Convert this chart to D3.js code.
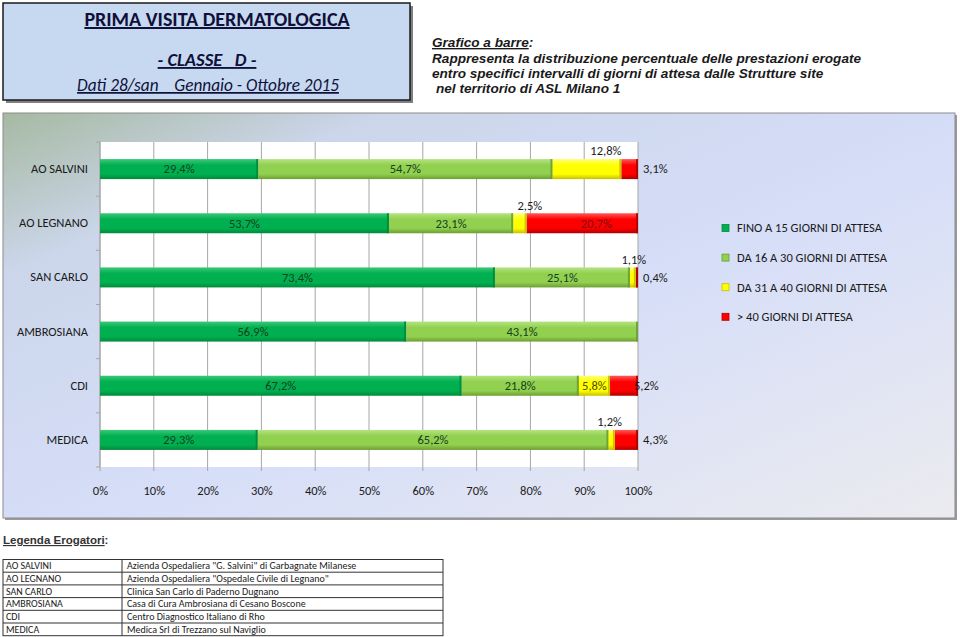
<!DOCTYPE html>
<html>
<head>
<meta charset="utf-8">
<script src="https://cdn.jsdelivr.net/npm/d3@7"></script>
<style>
  body { margin: 0; background: #ffffff; }
  svg { display: block; }
</style>
</head>
<body>
<div id="chart"></div>
<script>
//------------------------------------------------------------------------------
// Data
//------------------------------------------------------------------------------

var categories = ["AO SALVINI", "AO LEGNANO", "SAN CARLO", "AMBROSIANA", "CDI", "MEDICA"];
var seriesNames = ["FINO A 15 GIORNI DI ATTESA", "DA 16 A 30 GIORNI DI ATTESA",
                   "DA 31 A 40 GIORNI DI ATTESA", "> 40 GIORNI DI ATTESA"];
var fino15  = [29.4, 53.7, 73.4, 56.9, 67.2, 29.3];
var da16a30 = [54.7, 23.1, 25.1, 43.1, 21.8, 65.2];
var da31a40 = [12.8, 2.5, 1.1, 0, 5.8, 1.2];
var oltre40 = [3.1, 20.7, 0.4, 0, 5.2, 4.3];
var xTicks = [0, 10, 20, 30, 40, 50, 60, 70, 80, 90, 100];

var erogatori = [
  ["AO SALVINI", "Azienda Ospedaliera \"G. Salvini\" di Garbagnate Milanese"],
  ["AO LEGNANO", "Azienda Ospedaliera \"Ospedale Civile di Legnano\""],
  ["SAN CARLO", "Clinica San Carlo di Paderno Dugnano"],
  ["AMBROSIANA", "Casa di Cura Ambrosiana di Cesano Boscone"],
  ["CDI", "Centro Diagnostico Italiano di Rho"],
  ["MEDICA", "Medica Srl di Trezzano sul Naviglio"]
];

// where the small labels sit (as set by hand in the original sheet)
var labelPlace = {
  "AO SALVINI|2": {mode: "above", dx: 19},
  "AO SALVINI|3": {mode: "right", dx: 0},
  "AO LEGNANO|2": {mode: "above", dx: 10},
  "AO LEGNANO|3": {mode: "center", dx: 14},
  "SAN CARLO|2":  {mode: "above", dx: 1},
  "SAN CARLO|3":  {mode: "right", dx: 0},
  "CDI|3":        {mode: "right", dx: -9},
  "MEDICA|2":     {mode: "above", dx: -2},
  "MEDICA|3":     {mode: "right", dx: 0}
};

var colors = ["#00b050", "#92d050", "#ffff00", "#ff0000"];
var shades = [
  ["#3cc878", "#00b050", "#008a3c"],
  ["#b4e482", "#92d050", "#6c9e32"],
  ["#ffff7a", "#ffff00", "#c8c000"],
  ["#ff5a5a", "#ff0000", "#b00000"]
];

//------------------------------------------------------------------------------
// Drawing
//------------------------------------------------------------------------------

var W = 960, H = 637;
var font = "Carlito, Lato, 'Open Sans', sans-serif";

var svg = d3.select("#chart").append("svg")
  .attr("width", W).attr("height", H);

var defs = svg.append("defs");

var bg = defs.append("linearGradient").attr("id", "bg")
  .attr("x1", "0").attr("y1", "0").attr("x2", "1").attr("y2", "1");
bg.append("stop").attr("offset", "0%").attr("stop-color", "#a6b9a2");
bg.append("stop").attr("offset", "20%").attr("stop-color", "#cbd6ea");
bg.append("stop").attr("offset", "55%").attr("stop-color", "#d6def8");
bg.append("stop").attr("offset", "100%").attr("stop-color", "#ebebef");

shades.forEach(function(s, i) {
  var g = defs.append("linearGradient").attr("id", "bar" + i)
    .attr("x1", "0").attr("y1", "0").attr("x2", "0").attr("y2", "1");
  g.append("stop").attr("offset", "0%").attr("stop-color", s[0]);
  g.append("stop").attr("offset", "30%").attr("stop-color", s[1]);
  g.append("stop").attr("offset", "75%").attr("stop-color", s[1]);
  g.append("stop").attr("offset", "100%").attr("stop-color", s[2]);
});

// ---- title box
svg.append("rect").attr("x", 6).attr("y", 6).attr("width", 407).attr("height", 97)
  .attr("fill", "#7f7f7f");
svg.append("rect").attr("x", 3).attr("y", 3).attr("width", 407).attr("height", 97)
  .attr("fill", "#c6d9f1").attr("stroke", "#1a1a1a").attr("stroke-width", 1.5);

var tcol = "#10103a";
svg.append("text").attr("x", 217).attr("y", 26).attr("text-anchor", "middle")
  .attr("font-family", font).attr("font-size", 20).attr("font-weight", "bold")
  .attr("text-decoration", "underline").attr("fill", tcol)
  .text("PRIMA VISITA DERMATOLOGICA");
svg.append("text").attr("x", 207).attr("y", 66).attr("text-anchor", "middle")
  .attr("font-family", font).attr("font-size", 18.5).attr("font-style", "italic")
  .attr("font-weight", "bold")
  .attr("text-decoration", "underline").attr("fill", tcol).attr("xml:space", "preserve")
  .text("- CLASSE   D -");
svg.append("text").attr("x", 208).attr("y", 91).attr("text-anchor", "middle")
  .attr("font-family", font).attr("font-size", 17.3).attr("font-style", "italic")
  .attr("text-decoration", "underline").attr("fill", tcol).attr("xml:space", "preserve")
  .text("Dati 28/san    Gennaio - Ottobre 2015");

// ---- description
var desc = svg.append("g").attr("font-family", "'Liberation Sans', Arial, sans-serif")
  .attr("font-size", 13.6).attr("font-weight", "bold").attr("font-style", "italic")
  .attr("fill", "#1a1a1a");
var d1 = desc.append("text").attr("x", 432).attr("y", 47);
d1.append("tspan").attr("text-decoration", "underline").text("Grafico a barre");
d1.append("tspan").text(":");
desc.append("text").attr("x", 432).attr("y", 63)
  .text("Rappresenta la distribuzione percentuale delle prestazioni erogate");
desc.append("text").attr("x", 432).attr("y", 78)
  .text("entro specifici intervalli di giorni di attesa dalle Strutture site");
desc.append("text").attr("x", 436).attr("y", 93)
  .text("nel territorio di ASL Milano 1");

// ---- chart area
svg.append("rect").attr("x", 5).attr("y", 115).attr("width", 952).attr("height", 405)
  .attr("fill", "#9a9a9a");
svg.append("rect").attr("x", 3).attr("y", 113).attr("width", 952).attr("height", 405)
  .attr("fill", "url(#bg)").attr("stroke", "#8c8c8c").attr("stroke-width", 1);

var plot = {left: 100, right: 638, top: 142, bottom: 467};

var x = d3.scaleLinear().domain([0, 100]).range([plot.left, plot.right]);
var y = d3.scaleBand().domain(categories).range([plot.top, plot.bottom]).padding(0);
var barH = 20;

svg.append("rect").attr("x", plot.left).attr("y", plot.top)
  .attr("width", plot.right - plot.left).attr("height", plot.bottom - plot.top)
  .attr("fill", "#ffffff");

// gridlines
svg.append("g").selectAll("line").data(xTicks).join("line")
  .attr("x1", function(d) { return x(d); }).attr("x2", function(d) { return x(d); })
  .attr("y1", plot.top).attr("y2", plot.bottom + 4)
  .attr("stroke", "#a6a6a6").attr("stroke-width", 1);

// x axis
var xAxis = svg.append("g").attr("transform", "translate(0," + plot.bottom + ")")
  .call(d3.axisBottom(x).tickValues(xTicks).tickSize(0).tickPadding(19)
    .tickFormat(function(d) { return d + "%"; }));
xAxis.select(".domain").remove();
xAxis.selectAll("text").attr("font-family", font).attr("font-size", 12.5).attr("fill", "#1a1a1a");

// y axis line and ticks at band edges
var edges = categories.map(function(c) { return y(c); }).concat([plot.bottom]);
svg.append("line").attr("x1", plot.left).attr("x2", plot.left)
  .attr("y1", plot.top).attr("y2", plot.bottom).attr("stroke", "#a6a6a6");
svg.append("g").selectAll("line").data(edges).join("line")
  .attr("x1", plot.left - 4).attr("x2", plot.left)
  .attr("y1", function(d) { return d; }).attr("y2", function(d) { return d; })
  .attr("stroke", "#a6a6a6");

var yAxis = svg.append("g").attr("transform", "translate(" + plot.left + ",0)")
  .call(d3.axisLeft(y).tickSize(0).tickPadding(12));
yAxis.select(".domain").remove();
yAxis.selectAll("text").attr("font-family", font).attr("font-size", 12.5).attr("fill", "#1a1a1a");

// stacked bars
var table = categories.map(function(c, i) {
  return {cat: c, s0: fino15[i], s1: da16a30[i], s2: da31a40[i], s3: oltre40[i]};
});
var stack = d3.stack().keys(["s0", "s1", "s2", "s3"])(table);

var segs = [];
stack.forEach(function(layer, si) {
  layer.forEach(function(d) {
    var v = d[1] - d[0];
    if (v > 0) segs.push({si: si, cat: d.data.cat, x0: d[0], x1: d[1], v: v});
  });
});

var bars = svg.append("g");
bars.selectAll("rect.seg").data(segs).join("rect").attr("class", "seg")
  .attr("x", function(d) { return x(d.x0); })
  .attr("y", function(d) { return y(d.cat) + (y.bandwidth() - barH) / 2; })
  .attr("width", function(d) { return x(d.x1) - x(d.x0); })
  .attr("height", barH)
  .attr("fill", function(d) { return "url(#bar" + d.si + ")"; });

// bevel at the end of each segment
bars.selectAll("rect.edge").data(segs).join("rect").attr("class", "edge")
  .attr("x", function(d) { return x(d.x1) - Math.min(2, x(d.x1) - x(d.x0)); })
  .attr("y", function(d) { return y(d.cat) + (y.bandwidth() - barH) / 2; })
  .attr("width", function(d) { return Math.min(2, x(d.x1) - x(d.x0)); })
  .attr("height", barH)
  .attr("fill", function(d) { return shades[d.si][2]; })
  .attr("opacity", 0.9);

// value labels
function fmt(v) { return v.toFixed(1).replace(".", ",") + "%"; }

bars.selectAll("text").data(segs).join("text")
  .attr("font-family", font).attr("font-size", 12.5)
  .attr("fill", function(d) {
    var p = labelPlace[d.cat + "|" + d.si];
    return (p && p.mode !== "center") ? "#1a1a1a" : (d.si < 2 ? "#14401e" : (d.si === 3 ? "#7a1010" : "#4a4a00"));
  })
  .attr("dy", "0.35em")
  .each(function(d) {
    var p = labelPlace[d.cat + "|" + d.si] || {mode: "center", dx: 0};
    var cy = y(d.cat) + y.bandwidth() / 2;
    var t = d3.select(this);
    if (p.mode === "above") {
      t.attr("x", x((d.x0 + d.x1) / 2) + p.dx).attr("y", cy - barH / 2 - 8)
        .attr("text-anchor", "middle");
    } else if (p.mode === "right") {
      t.attr("x", x(d.x1) + 5 + p.dx).attr("y", cy).attr("text-anchor", "start");
    } else {
      t.attr("x", x((d.x0 + d.x1) / 2) + p.dx).attr("y", cy).attr("text-anchor", "middle");
    }
  })
  .text(function(d) { return fmt(d.v); });

// legend
var legend = svg.append("g").attr("transform", "translate(722,228)");
var li = legend.selectAll("g").data(seriesNames).join("g")
  .attr("transform", function(d, i) { return "translate(0," + (i * 29.6) + ")"; });
li.append("rect").attr("x", 0).attr("y", -3.5).attr("width", 7).attr("height", 7)
  .attr("fill", function(d, i) { return colors[i]; })
  .attr("stroke", function(d, i) { return shades[i][2]; }).attr("stroke-width", 0.8);
li.append("text").attr("x", 15).attr("dy", "0.35em")
  .attr("font-family", font).attr("font-size", 12.5).attr("fill", "#1a1a1a")
  .text(function(d) { return d; });

// ---- legenda erogatori
var leg2 = svg.append("text").attr("x", 3).attr("y", 544)
  .attr("font-family", "'Liberation Sans', Arial, sans-serif").attr("font-size", 11.5)
  .attr("font-weight", "bold").attr("fill", "#333333");
leg2.append("tspan").attr("text-decoration", "underline").text("Legenda Erogatori");
leg2.append("tspan").text(":");

var tbl = {x: 3, y: 559.5, w: 440, col: 122, rowH: 12.7};
var tg = svg.append("g");
tg.append("rect").attr("x", tbl.x).attr("y", tbl.y).attr("width", tbl.w)
  .attr("height", tbl.rowH * erogatori.length)
  .attr("fill", "#ffffff").attr("stroke", "#333333").attr("stroke-width", 1);
tg.append("line").attr("x1", tbl.col).attr("x2", tbl.col)
  .attr("y1", tbl.y).attr("y2", tbl.y + tbl.rowH * erogatori.length).attr("stroke", "#333333");
var rows = tg.selectAll("g.row").data(erogatori).join("g").attr("class", "row")
  .attr("transform", function(d, i) { return "translate(0," + (tbl.y + i * tbl.rowH) + ")"; });
rows.filter(function(d, i) { return i > 0; }).append("line")
  .attr("x1", tbl.x).attr("x2", tbl.x + tbl.w).attr("y1", 0).attr("y2", 0).attr("stroke", "#333333");
rows.append("text").attr("x", tbl.x + 3).attr("y", tbl.rowH / 2).attr("dy", "0.35em")
  .attr("font-family", font).attr("font-size", 10).attr("fill", "#1a1a1a")
  .text(function(d) { return d[0]; });
rows.append("text").attr("x", tbl.col + 5).attr("y", tbl.rowH / 2).attr("dy", "0.35em")
  .attr("font-family", font).attr("font-size", 10).attr("fill", "#1a1a1a")
  .text(function(d) { return d[1]; });
</script>
</body>
</html>
